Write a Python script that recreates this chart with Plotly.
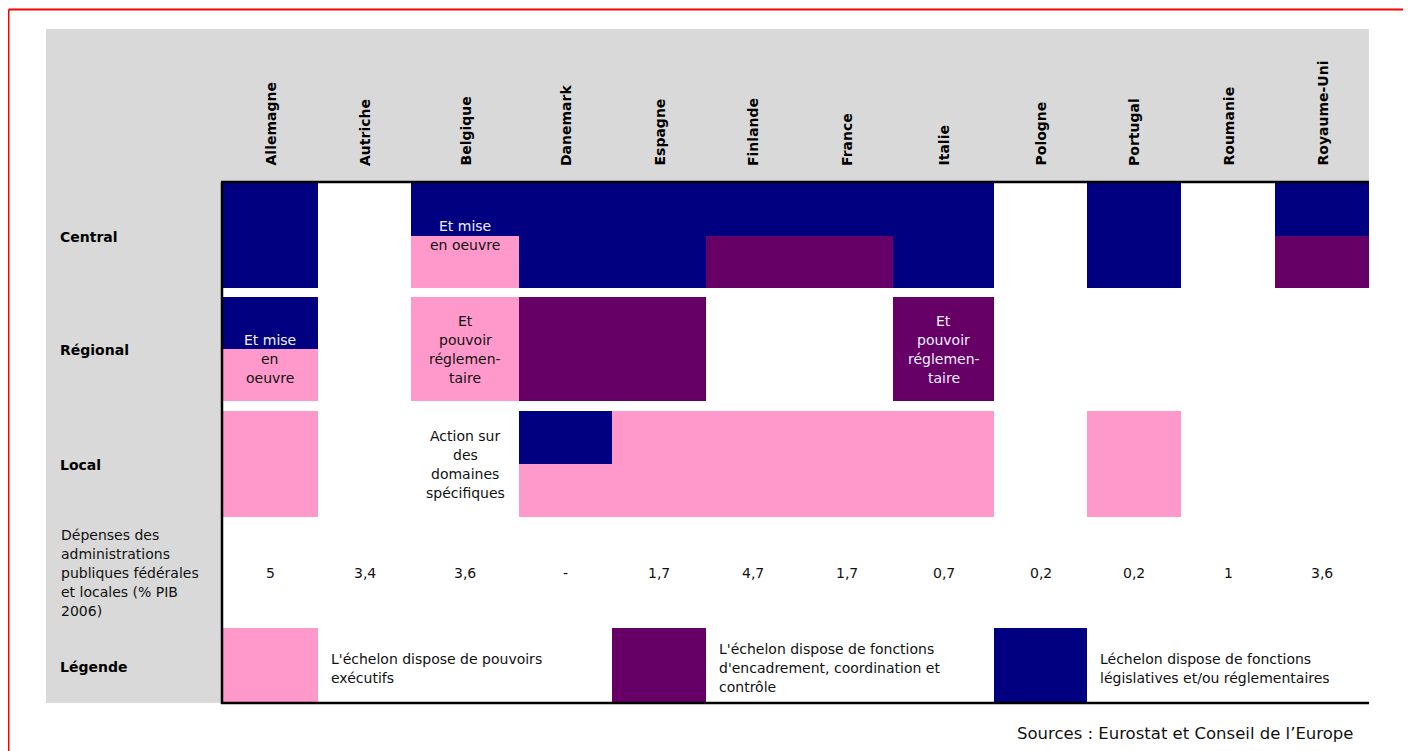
import plotly.graph_objects as go

# --- DATA ---
COUNTRIES = ["Allemagne", "Autriche", "Belgique", "Danemark", "Espagne", "Finlande",
             "France", "Italie", "Pologne", "Portugal", "Roumanie", "Royaume-Uni"]

# L = fonctions législatives/réglementaires, C = encadrement/contrôle, E = pouvoirs exécutifs
CENTRAL_TOP = ["L", "", "L", "L", "L", "L", "L", "L", "", "L", "", "L"]
CENTRAL_BOTTOM = ["L", "", "E", "L", "L", "C", "C", "L", "", "L", "", "C"]
REGIONAL_TOP = ["L", "", "E", "C", "C", "", "", "C", "", "", "", ""]
REGIONAL_BOTTOM = ["E", "", "E", "C", "C", "", "", "C", "", "", "", ""]
LOCAL_TOP = ["E", "", "", "L", "E", "E", "E", "E", "", "E", "", ""]
LOCAL_BOTTOM = ["E", "", "", "E", "E", "E", "E", "E", "", "E", "", ""]

DEPENSES = ["5", "3,4", "3,6", "-", "1,7", "4,7", "1,7", "0,7", "0,2", "0,2", "1", "3,6"]

ROW_LABELS = ["Central", "Régional", "Local"]
DEPENSES_LABEL = ["Dépenses des", "administrations", "publiques fédérales",
                  "et locales (% PIB", "2006)"]
LEGEND_LABEL = "Légende"

NOTES = {
    ("Central", "Belgique"): ["Et mise", "en oeuvre"],
    ("Régional", "Allemagne"): ["", "Et mise", "en", "oeuvre"],
    ("Régional", "Belgique"): ["Et", "pouvoir", "réglemen-", "taire"],
    ("Régional", "Italie"): ["Et", "pouvoir", "réglemen-", "taire"],
    ("Local", "Belgique"): ["Action sur", "des", "domaines", "spécifiques"],
}

LEGEND_CODES = ["E", "C", "L"]
LEGEND_TEXTS = [
    ["L'échelon dispose de pouvoirs", "exécutifs"],
    ["L'échelon dispose de fonctions", "d'encadrement, coordination et", "contrôle"],
    ["Léchelon dispose de fonctions", "législatives et/ou réglementaires"],
]
SOURCE = "Sources : Eurostat et Conseil de l’Europe"

# --- LAYOUT (page pixel units; the page body adds an 8px offset) ---
W, H = 1411, 751
OFF = 8
COLORS = {"L": "#000080", "C": "#660066", "E": "#FF99CC"}
GRAY = "#D9D9D9"
COL_WIDTHS = [96, 93, 108, 93, 94, 94, 93, 101, 93, 94, 94, 94]
X0_GRAY, X0_TABLE = 46, 222
Y0_HEADER, Y0_TABLE = 29, 182
BANDS = {"Central": (183, 288), "Régional": (297, 401), "Local": (411, 517),
         "Dépenses": (517, 628), "Légende": (628, 703)}
LEGEND_COLS = [0, 4, 8]
LINE_H = 19
FONT = "DejaVu Sans"
BODY = 14

edges = [X0_TABLE]
for w in COL_WIDTHS:
    edges.append(edges[-1] + w)
centers = [(a + b) / 2 for a, b in zip(edges[:-1], edges[1:])]
X1_TABLE = edges[-1]

fig = go.Figure()

# cells as bars
cells = {k: [] for k in COLORS}
codes_by_row = {"Central": (CENTRAL_TOP, CENTRAL_BOTTOM),
                "Régional": (REGIONAL_TOP, REGIONAL_BOTTOM),
                "Local": (LOCAL_TOP, LOCAL_BOTTOM)}
for row, (top, bottom) in codes_by_row.items():
    y0, y1 = BANDS[row]
    ym = (y0 + y1) / 2
    for i, (t, b) in enumerate(zip(top, bottom)):
        if t and t == b:
            cells[t].append((i, y0, y1))
        else:
            if t:
                cells[t].append((i, y0, ym))
            if b:
                cells[b].append((i, ym, y1))
ly0, ly1 = BANDS["Légende"]
for code, col in zip(LEGEND_CODES, LEGEND_COLS):
    cells[code].append((col, ly0, ly1))

for code, lst in cells.items():
    fig.add_trace(go.Bar(
        x=[centers[i] for i, _, _ in lst],
        width=[COL_WIDTHS[i] for i, _, _ in lst],
        base=[a for _, a, _ in lst],
        y=[b - a for _, a, b in lst],
        marker=dict(color=COLORS[code], line=dict(width=0)),
        hoverinfo="skip", showlegend=False,
    ))

ann = []


def txt(x, y, s, size=BODY, color="#111111", bold=False, xanchor="center", angle=0, yanchor="middle"):
    ann.append(dict(x=x, y=y, xref="x", yref="y", text=f"<b>{s}</b>" if bold else s,
                    showarrow=False, xanchor=xanchor, yanchor=yanchor, textangle=angle,
                    font=dict(family=FONT, size=size, color=color)))


# country headers
for c, xc in zip(COUNTRIES, centers):
    txt(xc, 168, c, size=14, color="#000000", bold=True, angle=-90, yanchor="bottom")

# row labels
for r in ROW_LABELS + [LEGEND_LABEL]:
    y0, y1 = BANDS[r]
    txt(58, (y0 + y1) / 2 + 1, r, size=14, color="#000000", bold=True, xanchor="left")

dy0, dy1 = BANDS["Dépenses"]
dm = (dy0 + dy1) / 2
n = len(DEPENSES_LABEL)
for k, line in enumerate(DEPENSES_LABEL):
    txt(59, dm + (k - (n - 1) / 2) * LINE_H, line, xanchor="left")
for v, xc in zip(DEPENSES, centers):
    txt(xc, dm, v)

# notes inside cells: white on dark halves, dark on light
for (row, country), lines in NOTES.items():
    i = COUNTRIES.index(country)
    y0, y1 = BANDS[row]
    ym = (y0 + y1) / 2
    top, bottom = codes_by_row[row]
    n = len(lines)
    for k, line in enumerate(lines):
        if not line:
            continue
        y = ym + (k - (n - 1) / 2) * LINE_H
        code = top[i] if y < ym else bottom[i]
        col = "#F0F0FF" if code in ("L", "C") else "#111111"
        txt(centers[i], y, line, color=col)

# legend texts
lm = (ly0 + ly1) / 2
for col, lines in zip(LEGEND_COLS, LEGEND_TEXTS):
    n = len(lines)
    for k, line in enumerate(lines):
        txt(edges[col + 1] + 11, lm + 2.5 + (k - (n - 1) / 2) * LINE_H, line, xanchor="left")

txt(1355, 733, SOURCE, size=16.5, xanchor="right")

shapes = [
    # gray header and label column
    dict(type="rect", x0=X0_GRAY, x1=X1_TABLE, y0=Y0_HEADER, y1=Y0_TABLE, fillcolor=GRAY,
         line_width=0, layer="below"),
    dict(type="rect", x0=X0_GRAY, x1=X0_TABLE, y0=Y0_TABLE, y1=ly1, fillcolor=GRAY,
         line_width=0, layer="below"),
    # black table frame
    dict(type="line", x0=X0_TABLE - 1, x1=X1_TABLE, y0=Y0_TABLE, y1=Y0_TABLE, line=dict(color="black", width=2.5)),
    dict(type="line", x0=X0_TABLE, x1=X0_TABLE, y0=Y0_TABLE, y1=ly1 + 1, line=dict(color="black", width=2.5)),
    dict(type="line", x0=X0_TABLE - 1, x1=X1_TABLE, y0=ly1, y1=ly1, line=dict(color="black", width=2.5)),
    # red page border
    dict(type="line", x0=8.5, x1=W, y0=9.5, y1=9.5, line=dict(color="#FF0000", width=2)),
    dict(type="line", x0=8.5, x1=8.5, y0=9.5, y1=H, line=dict(color="#FF0000", width=2)),
]

fig.update_layout(
    width=W - OFF, height=H - OFF,
    margin=dict(l=0, r=0, t=0, b=0),
    paper_bgcolor="white", plot_bgcolor="white",
    barmode="overlay", bargap=0,
    xaxis=dict(range=[OFF, W], visible=False, fixedrange=True),
    yaxis=dict(range=[H, OFF], visible=False, fixedrange=True),
    shapes=shapes, annotations=ann,
)

fig.write_html("out.html", config={"displayModeBar": False})
